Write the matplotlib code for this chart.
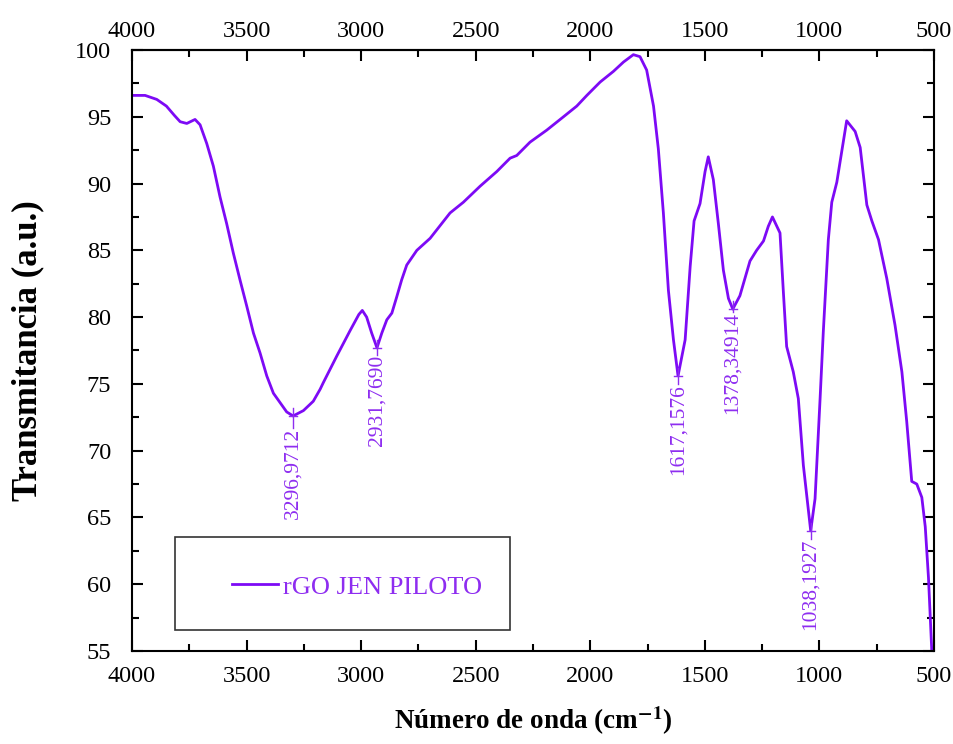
import numpy as np
import matplotlib
matplotlib.use('Agg')
import matplotlib.pyplot as plt
from matplotlib.patches import Rectangle

# FTIR spectrum (wavenumber cm-1, transmittance a.u.)
wavenumber = [4000, 3943, 3892, 3850, 3815, 3790, 3761, 3725, 3703, 3674,
              3645, 3616, 3587, 3558, 3529, 3499, 3470, 3441, 3412, 3383,
              3354, 3325, 3297, 3252, 3209, 3179, 3165, 3106, 3048, 3010,
              2995, 2976, 2954, 2931, 2910, 2888, 2866, 2845, 2823, 2801,
              2757, 2699, 2612, 2554, 2481, 2408, 2350, 2321, 2263, 2190,
              2117, 2059, 2015, 1957, 1899, 1855, 1812, 1783, 1754, 1724,
              1703, 1681, 1659, 1637, 1617, 1586, 1564, 1547, 1521, 1499,
              1485, 1463, 1441, 1419, 1397, 1378, 1347, 1303, 1274, 1244,
              1223, 1205, 1172, 1157, 1143, 1114, 1092, 1070, 1038, 1019,
              997, 983, 961, 946, 924, 910, 881, 844, 822, 793,
              771, 742, 706, 670, 640, 619, 597, 575, 553, 538,
              524, 509]
transmitancia = [96.6, 96.6, 96.3, 95.8, 95.1, 94.63, 94.5, 94.8, 94.4, 93.0,
                 91.3, 89.0, 87.0, 84.8, 82.8, 80.8, 78.8, 77.3, 75.6, 74.3,
                 73.6, 72.9, 72.6, 73.0, 73.7, 74.6, 75.1, 77.1, 79.0, 80.2,
                 80.5, 80.0, 78.8, 77.7, 78.8, 79.8, 80.3, 81.5, 82.8, 83.9,
                 85.0, 85.9, 87.8, 88.6, 89.8, 90.9, 91.9, 92.1, 93.1, 94.0,
                 95.0, 95.8, 96.6, 97.6, 98.4, 99.1, 99.65, 99.5, 98.5, 95.8,
                 92.6, 87.8, 82.0, 78.3, 75.6, 78.3, 83.8, 87.2, 88.5, 90.9,
                 92.0, 90.3, 87.0, 83.5, 81.4, 80.6, 81.6, 84.2, 85.0, 85.7,
                 86.8, 87.5, 86.3, 81.8, 77.8, 75.9, 73.9, 68.9, 64.0, 66.4,
                 73.9, 78.9, 85.8, 88.6, 90.1, 91.6, 94.7, 93.9, 92.7, 88.4,
                 87.2, 85.8, 82.9, 79.4, 75.9, 72.2, 67.7, 67.5, 66.5, 64.3,
                 60.5, 54.8]

# labelled minima
peak_pos = [3296.9712, 2931.7690, 1617.1576, 1378.34914, 1038.1927]
peak_val = [72.6, 77.7, 75.6, 80.6, 64.0]
peak_txt = ['3296,9712', '2931,7690', '1617,1576', '1378,34914', '1038,1927']
text_gap = [0.9, 0.5, 0.6, 0.2, 0.6]

serie = 'rGO JEN PILOTO'
line_color = '#7D0AF5'
text_color = '#8E2DF0'

plt.rcParams['font.family'] = ['Liberation Serif', 'DejaVu Serif']
plt.rcParams['mathtext.fontset'] = 'stix'

fig = plt.figure(figsize=(9.54, 7.44), dpi=100)
ax = fig.add_axes([0.1384, 0.125, 0.8406, 0.8078])

ax.plot(wavenumber, transmitancia, color=line_color, lw=2.0,
        solid_joinstyle='round', label=serie)

# peak labels with small leader
for x, y, t, g in zip(peak_pos, peak_val, peak_txt, text_gap):
    ax.plot([x, x], [y + 0.6, y - g], color=text_color, lw=1.0)
    ax.plot([x - 18, x + 18], [y, y], color=text_color, lw=1.0)
    ax.text(x, y - g, t, rotation=90, ha='center', va='top',
            color=text_color, fontsize=15.5)

major_x = np.arange(4000, 499, -500)
minor_x = np.arange(3750, 500, -500)
ax.set_xlim(4000, 500)
ax.set_ylim(55, 100)
ax.set_xticks(major_x)
ax.set_xticks(minor_x, minor=True)
ax.set_yticks(np.arange(55, 101, 5))
ax.set_yticks(np.arange(57.5, 100, 5), minor=True)

ax.tick_params(which='both', direction='in', top=False, right=True,
               labelsize=17.5, width=1.5)
ax.tick_params(axis='x', which='both', pad=11)
ax.tick_params(axis='y', which='both', pad=15)
ax.tick_params(which='major', length=8)
ax.tick_params(which='minor', length=5)
for s in ax.spines.values():
    s.set_linewidth(1.5)

# top axis with its own label spacing
top = ax.secondary_xaxis('top')
top.set_xticks(major_x)
top.set_xticks(minor_x, minor=True)
top.tick_params(which='both', direction='in', labelsize=17.5, width=1.5, pad=6)
top.tick_params(which='major', length=8)
top.tick_params(which='minor', length=5)
top.spines['top'].set_linewidth(1.5)

ax.set_xlabel('Número de onda (cm$^{\\mathbf{-1}}$)', fontsize=19.5,
              fontweight='bold', labelpad=12)
ax.set_ylabel('Transmitancia (a.u.)', fontsize=25, fontweight='bold',
              labelpad=22)

# legend box as in the reference
ax.add_patch(Rectangle((0.0536, 0.0349), 0.4177, 0.1547, transform=ax.transAxes,
                       fill=False, edgecolor='#333333', lw=1.2, zorder=5))
ax.legend(loc='center left', bbox_to_anchor=(0.1247, 0.1065), frameon=False,
          fontsize=19, labelcolor=text_color, handlelength=1.75,
          handletextpad=0.2, borderpad=0, borderaxespad=0)

fig.savefig('out.png', dpi=100)
